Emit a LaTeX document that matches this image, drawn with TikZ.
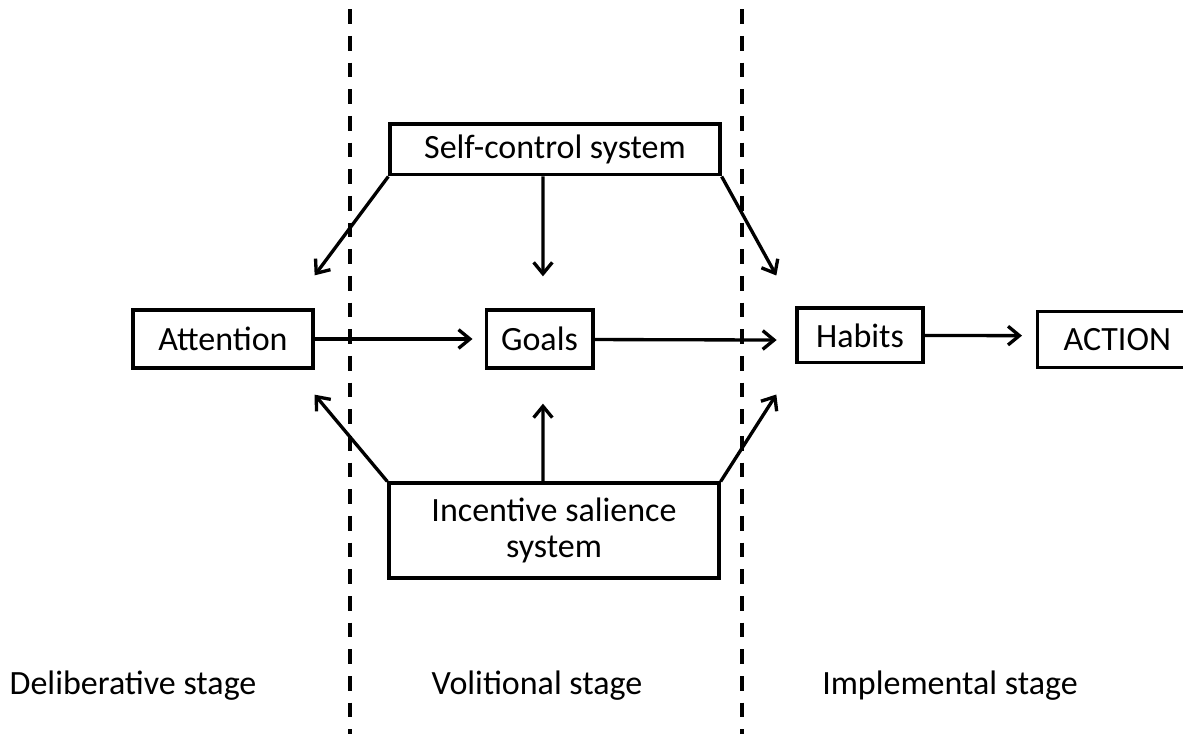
\documentclass[tikz,border=0pt]{standalone}
\usepackage{fontspec}
\setmainfont{Carlito}
\usetikzlibrary{arrows.meta}
\begin{document}
\begin{tikzpicture}[x=0.75pt,y=-0.75pt,
  box/.style={draw,line width=2.5pt,inner sep=0pt,align=center,font=\fontsize{25.5}{27.5}\selectfont},
  conn/.style={line width=2.5pt,-{Straight Barb[length=8.5pt,width=14pt,line width=2.5pt]}},
  sep/.style={line width=2.8pt,dash pattern=on 11pt off 9pt},
  lab/.style={font=\fontsize{25.5}{28}\selectfont}]
\useasboundingbox (0,0) rectangle (1183,734);
\node[box,minimum width=247.5pt,minimum height=38pt] (sc) at (555,149.5) {\raisebox{-2.5pt}{Self-control system}};
\node[box,minimum width=135pt,minimum height=43.5pt] (att) at (223,339) {Attention};
\node[box,minimum width=80pt,minimum height=43.5pt] (goals) at (539.5,339) {Goals};
\node[box,minimum width=94.5pt,minimum height=41pt] (hab) at (860,335.5) {Habits};
\node[box,anchor=west,align=left,text width=120pt,inner xsep=19.5pt,minimum height=42pt] (act) at (1036,339.5) {ACTION};
\node[box,minimum width=247.5pt,minimum height=71pt] (inc) at (554,530.5) {Incentive salience\\system};
\node[lab] (l1) at (133,686) {Deliberative stage};
\node[lab] (l2) at (537,686) {Volitional stage};
\node[lab] (l3) at (950,686) {Implemental stage};
\coordinate (d1t) at (350,0); \coordinate (d1b) at (350,734);
\coordinate (d2t) at (742,0); \coordinate (d2b) at (742,734);
\draw[sep,dash phase=-7pt] (d1t) -- (d1b);
\draw[sep,dash phase=-7pt] (d2t) -- (d2b);
% arrows from self-control
\draw[conn] (sc.south west) -- ([yshift=24.75pt]att.north east);
\draw[conn] ([xshift=-9pt]sc.south) -- ([xshift=2.6pt,yshift=24pt]goals.north);
\draw[conn] (sc.south east) -- ([xshift=-14.25pt,yshift=23.25pt]hab.north west);
% main chain
\draw[conn] (att.east) -- ([xshift=-9pt]goals.west);
\draw[conn] ([yshift=-0.4pt]goals.east) -- ([xshift=-14pt,yshift=-3.4pt]hab.west);
\draw[conn] (hab.east) -- ([xshift=-10.5pt,yshift=2.9pt]act.west);
% arrows from incentive
\draw[conn] (inc.north west) -- ([yshift=-18.75pt]att.south east);
\draw[conn] ([xshift=-8.25pt]inc.north) -- ([xshift=2.6pt,yshift=-25.5pt]goals.south);
\draw[conn] (inc.north east) -- ([xshift=-14.25pt,yshift=-22.5pt]hab.south west);
\end{tikzpicture}
\end{document}
